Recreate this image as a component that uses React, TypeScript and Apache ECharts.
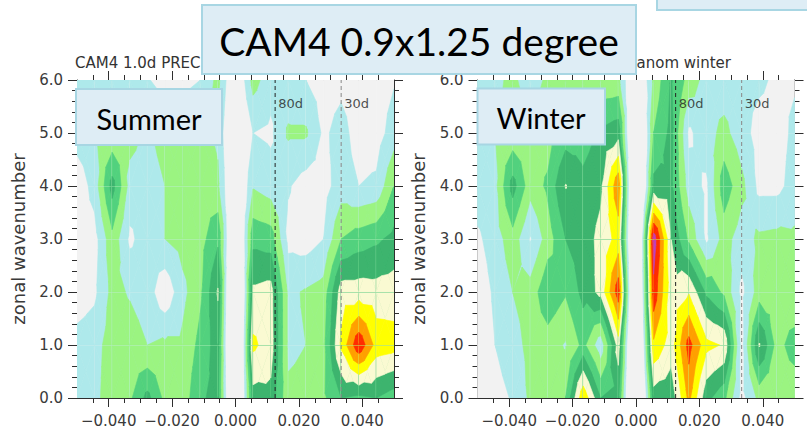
import React, { useEffect, useRef } from "react";
import * as echarts from "echarts";

// frequency bins (cycles/day) and zonal wavenumbers of the spectral grid
const FREQ = [-0.05, -0.04444, -0.03889, -0.03333, -0.02778, -0.02222, -0.01667, -0.01111, -0.00556, 0, 0.00556, 0.01111, 0.01667, 0.02222, 0.02778, 0.03333, 0.03889, 0.04444, 0.05];
const WAVENUM = [0, 1, 2, 3, 4, 5, 6];

// contour-level index of spectral power (rows: wavenumber 0..6, columns: FREQ)
const SUMMER = [
  [1.5, 1.7, 2.6, 2.8, 4.3, 2.7, 2.4, 3.9, 4.2, -3, 4.6, 4.7, 2.2, 2.3, 2.8, 4.0, 3.8, 4.0, 3.5],
  [1.4, 1.6, 2.5, 2.5, 2.0, 2.2, 2.2, 3.3, 4.5, -4, 6.2, 5.5, 1.8, 2.0, 2.7, 6.2, 8.8, 6.6, 6.4],
  [0.4, 0.8, 2.3, 1.9, 1.5, 0.2, 1.7, 2.8, 5.1, -4, 5.2, 5.4, 1.8, 2.1, 2.4, 5.5, 5.5, 5.4, 5.5],
  [0.3, 0.6, 2.7, 0.8, 1.5, 2.0, 2.4, 2.6, 3.8, -2, 3.7, 3.5, 0.7, 0.5, 1.0, 3.0, 3.5, 3.8, 4.3],
  [0.3, 1.4, 4.4, 1.6, 1.4, 2.0, 2.5, 2.6, 2.2, -1, 1.9, 1.5, 1.1, 0.5, 0.6, 1.5, 1.0, 1.2, 3.0],
  [1.5, 1.8, 2.2, 2.4, 1.8, 2.5, 2.6, 2.5, 1.8, -1, 1.0, 0.8, 2.15, 2.15, 0.8, 1.4, 0.5, 0.5, 1.5],
  [1.5, 1.5, 1.5, 1.5, 1.1, 0.5, 0.5, 1.0, 2.3, -0.5, 2.4, 1.4, 1.3, 1.0, 0.5, 0.7, 0.4, 0.4, 0.9],
];
const WINTER = [
  [0.0, 0.6, 1.1, 2.2, 2.5, 3.0, 6.8, 4.0, 4.2, -4, 4.5, 4.3, 7.3, 4.3, 3.3, 0.6, 2.3, 2.2, 2.2],
  [0.2, 1.0, 1.6, 2.3, 2.5, 1.9, 3.3, 1.3, 5.5, -4, 6.8, 5.5, 8.4, 6.3, 5.9, 0.6, 5.1, 2.6, 3.5],
  [0.3, 1.2, 2.0, 2.4, 3.8, 3.1, 4.3, 5.3, 8.6, -4, 8.7, 5.4, 5.9, 3.8, 2.8, 0.7, 2.5, 2.3, 2.0],
  [0.8, 1.5, 2.6, 0.9, 2.5, 4.0, 4.5, 5.3, 6.4, -4, 9.6, 5.0, 2.8, 0.8, 2.4, 1.5, 2.2, 2.3, 2.2],
  [1.6, 1.7, 4.4, 2.4, 3.2, 5.05, 4.3, 4.8, 7.8, -4, 4.3, 4.2, 1.5, 0.8, 3.6, 2.3, 0.7, 0.7, 1.4],
  [1.8, 2.0, 2.3, 2.4, 2.5, 3.5, 3.5, 4.2, 4.6, -3, 3.0, 4.3, 0.8, 1.6, 2.3, 1.4, 0.6, 0.6, 1.2],
  [2.0, 1.8, 2.2, 1.5, 2.2, 2.0, 2.2, 2.2, 2.3, -1, 2.2, 4.1, 2.6, 1.6, 1.4, 1.3, 1.2, 0.8, 0.9],
];

const THRESH = [1, 2, 3, 4, 5, 6, 7, 8, 9];
const COLORS = ["#f2f2f2", "#aee9eb", "#9bf481", "#52d17e", "#3db46e", "#fafad2", "#ffff00", "#ff9f00", "#ff2c00", "#c040c0"];

const X_MAJOR = [-0.04, -0.02, 0, 0.02, 0.04];
const X_MINOR = [-0.045, -0.035, -0.03, -0.025, -0.015, -0.01, -0.005, 0.005, 0.01, 0.015, 0.025, 0.03, 0.035, 0.045];
const PERIOD_FREQ = [1 / 80, 1 / 30];
const PERIOD_LABELS = ["80d", "30d"];
const PERIOD_COLORS = ["#222222", "#888888"];

type P = { x: number; y: number; v: number };

function clipGE(poly: P[], t: number): P[] {
  const out: P[] = [];
  for (let n = 0; n < poly.length; n++) {
    const a = poly[n];
    const b = poly[(n + 1) % poly.length];
    const ain = a.v >= t;
    const bin = b.v >= t;
    if (ain) out.push(a);
    if (ain !== bin) {
      const f = (t - a.v) / (b.v - a.v);
      out.push({ x: a.x + (b.x - a.x) * f, y: a.y + (b.y - a.y) * f, v: t });
    }
  }
  return out;
}

function makeRender(grid: number[][]) {
  return (params: any, api: any) => {
    const i = api.value(2);
    const j = api.value(3);
    const idx = [[i, j], [i + 1, j], [i + 1, j + 1], [i, j + 1]];
    const corners: P[] = idx.map(([a, b]) => {
      const p = api.coord([FREQ[a], WAVENUM[b]]);
      return { x: p[0], y: p[1], v: grid[b][a] };
    });
    const c: P = {
      x: (corners[0].x + corners[1].x + corners[2].x + corners[3].x) / 4,
      y: (corners[0].y + corners[1].y + corners[2].y + corners[3].y) / 4,
      v: (corners[0].v + corners[1].v + corners[2].v + corners[3].v) / 4,
    };
    const tris = [[0, 1], [1, 2], [2, 3], [3, 0]].map(([a, b]) => [corners[a], corners[b], c]);
    const children: any[] = [
      {
        type: "polygon",
        shape: { points: corners.map((p) => [p.x, p.y]) },
        style: { fill: COLORS[0], stroke: COLORS[0], lineWidth: 0.6 },
      },
    ];
    for (let L = 1; L < COLORS.length; L++) {
      const t = THRESH[L - 1];
      for (const tri of tris) {
        const poly = clipGE(tri, t);
        if (poly.length >= 3) {
          children.push({
            type: "polygon",
            shape: { points: poly.map((p) => [p.x, p.y]) },
            style: { fill: COLORS[L], stroke: COLORS[L], lineWidth: 0.6 },
          });
        }
      }
    }
    return { type: "group", children };
  };
}

const AXIS_COLOR = "#2e2e2e";
const LABEL_FONT = "DejaVu Sans";

function buildAxes(gi: number) {
  const base = { type: "value", min: -0.05, max: 0.05, gridIndex: gi, splitLine: { show: false } };
  const xAxes = [
    {
      ...base,
      position: "bottom",
      axisLine: { show: true, onZero: false, lineStyle: { color: AXIS_COLOR, width: 1 } },
      axisTick: { show: true, customValues: X_MAJOR, length: 9, inside: false, lineStyle: { color: AXIS_COLOR } },
      axisLabel: {
        show: true,
        customValues: X_MAJOR,
        margin: 15,
        color: "#3a3a3a",
        fontSize: 15,
        fontFamily: LABEL_FONT,
        formatter: (v: number) => v.toFixed(3).replace("-", "\u2212"),
      },
    },
    {
      ...base,
      position: "bottom",
      axisLine: { show: false, onZero: false },
      axisTick: { show: true, customValues: X_MINOR, length: 5, lineStyle: { color: AXIS_COLOR } },
      axisLabel: { show: false },
    },
    {
      ...base,
      position: "top",
      axisLine: { show: true, onZero: false, lineStyle: { color: AXIS_COLOR, width: 1 } },
      axisTick: { show: true, customValues: X_MAJOR, length: 9, lineStyle: { color: AXIS_COLOR } },
      axisLabel: { show: false },
    },
    {
      ...base,
      position: "top",
      axisLine: { show: false, onZero: false },
      axisTick: { show: true, customValues: X_MINOR, length: 5, lineStyle: { color: AXIS_COLOR } },
      axisLabel: { show: false },
    },
  ];
  const ybase = { type: "value", min: 0, max: 6, interval: 1, gridIndex: gi, splitLine: { show: false } };
  const yAxes = [
    {
      ...ybase,
      position: "left",
      name: "zonal wavenumber",
      nameLocation: "middle",
      nameGap: 50,
      nameTextStyle: { fontSize: 18, fontFamily: LABEL_FONT, color: "#3a3a3a" },
      axisLine: { show: true, onZero: false, lineStyle: { color: AXIS_COLOR, width: 1 } },
      axisTick: { show: true, length: 9, lineStyle: { color: AXIS_COLOR } },
      minorTick: { show: true, splitNumber: 5, length: 5, lineStyle: { color: AXIS_COLOR } },
      axisLabel: {
        show: true,
        margin: 14,
        color: "#3a3a3a",
        fontSize: 15,
        fontFamily: LABEL_FONT,
        formatter: (v: number) => v.toFixed(1),
      },
    },
    {
      ...ybase,
      position: "right",
      axisLine: { show: true, onZero: false, lineStyle: { color: AXIS_COLOR, width: 1 } },
      axisTick: { show: true, length: 9, lineStyle: { color: AXIS_COLOR } },
      minorTick: { show: true, splitNumber: 5, length: 5, lineStyle: { color: AXIS_COLOR } },
      axisLabel: { show: false },
    },
  ];
  return { xAxes, yAxes };
}

function cellData() {
  const cells: number[][] = [];
  for (let j = 0; j < WAVENUM.length - 1; j++) {
    for (let i = 0; i < FREQ.length - 1; i++) {
      cells.push([FREQ[i], WAVENUM[j], i, j]);
    }
  }
  return cells;
}

function panelSeries(gi: number, grid: number[][]) {
  const xi = gi * 4;
  const yi = gi * 2;
  const series: any[] = [
    {
      type: "custom",
      xAxisIndex: xi,
      yAxisIndex: yi,
      data: cellData(),
      renderItem: makeRender(grid),
      clip: true,
      silent: true,
      z: 1,
    },
  ];
  PERIOD_FREQ.forEach((f, n) => {
    series.push({
      type: "line",
      xAxisIndex: xi,
      yAxisIndex: yi,
      data: [[f, 0], [f, 6]],
      symbol: "none",
      silent: true,
      z: 3,
      lineStyle: { color: PERIOD_COLORS[n], width: 1, type: [4, 3] },
    });
    series.push({
      type: "scatter",
      xAxisIndex: xi,
      yAxisIndex: yi,
      data: [[f, 5.56]],
      symbolSize: 0,
      silent: true,
      z: 4,
      label: {
        show: true,
        position: "right",
        distance: 3,
        formatter: PERIOD_LABELS[n],
        fontSize: 13,
        fontFamily: LABEL_FONT,
        color: "#222",
      },
    });
  });
  return series;
}

const BOX_FILL = "#deedf5";
const BOX_STROKE = "#a8d6e3";

export default function App() {
  const ref = useRef<HTMLDivElement>(null);
  useEffect(() => {
    if (!ref.current) return;
    const chart = echarts.init(ref.current, undefined, { renderer: "svg" });
    const a0 = buildAxes(0);
    const a1 = buildAxes(1);
    const option: any = {
      animation: false,
      backgroundColor: "#ffffff",
      grid: [
        { left: 77, top: 80, width: 317, height: 318 },
        { left: 477.5, top: 80, width: 317, height: 318 },
      ],
      xAxis: [...a0.xAxes, ...a1.xAxes],
      yAxis: [...a0.yAxes, ...a1.yAxes],
      series: [...panelSeries(0, SUMMER), ...panelSeries(1, WINTER)],
      graphic: [
        {
          type: "text",
          x: 75,
          y: 63,
          z: 50,
          style: { text: "CAM4 1.0d PREC", font: "15px 'DejaVu Sans'", fill: "#333", verticalAlign: "middle", align: "left" },
        },
        {
          type: "text",
          x: 731,
          y: 63,
          z: 50,
          style: { text: "anom winter", font: "15px 'DejaVu Sans'", fill: "#333", verticalAlign: "middle", align: "right" },
        },
        {
          type: "rect",
          z: 100,
          shape: { x: 657, y: -10, width: 170, height: 20 },
          style: { fill: BOX_FILL, stroke: BOX_STROKE, lineWidth: 2 },
        },
        {
          type: "rect",
          z: 100,
          shape: { x: 202, y: 5, width: 434, height: 69 },
          style: { fill: BOX_FILL, stroke: BOX_STROKE, lineWidth: 2 },
        },
        {
          type: "text",
          z: 101,
          x: 419,
          y: 41,
          style: { text: "CAM4 0.9x1.25 degree", font: "39px Lato", fill: "#000", align: "center", verticalAlign: "middle" },
        },
        {
          type: "rect",
          z: 100,
          shape: { x: 76, y: 89, width: 146, height: 56 },
          style: { fill: BOX_FILL, stroke: BOX_STROKE, lineWidth: 2 },
        },
        {
          type: "text",
          z: 101,
          x: 149,
          y: 118,
          style: { text: "Summer", font: "29px Lato", fill: "#000", align: "center", verticalAlign: "middle" },
        },
        {
          type: "rect",
          z: 100,
          shape: { x: 477.5, y: 88.5, width: 127.5, height: 56 },
          style: { fill: BOX_FILL, stroke: BOX_STROKE, lineWidth: 2 },
        },
        {
          type: "text",
          z: 101,
          x: 541,
          y: 117,
          style: { text: "Winter", font: "29px Lato", fill: "#000", align: "center", verticalAlign: "middle" },
        },
      ],
    };
    chart.setOption(option);
    return () => chart.dispose();
  }, []);
  return <div ref={ref} style={{ position: "absolute", left: 0, top: 0, width: 807, height: 437 }} />;
}
